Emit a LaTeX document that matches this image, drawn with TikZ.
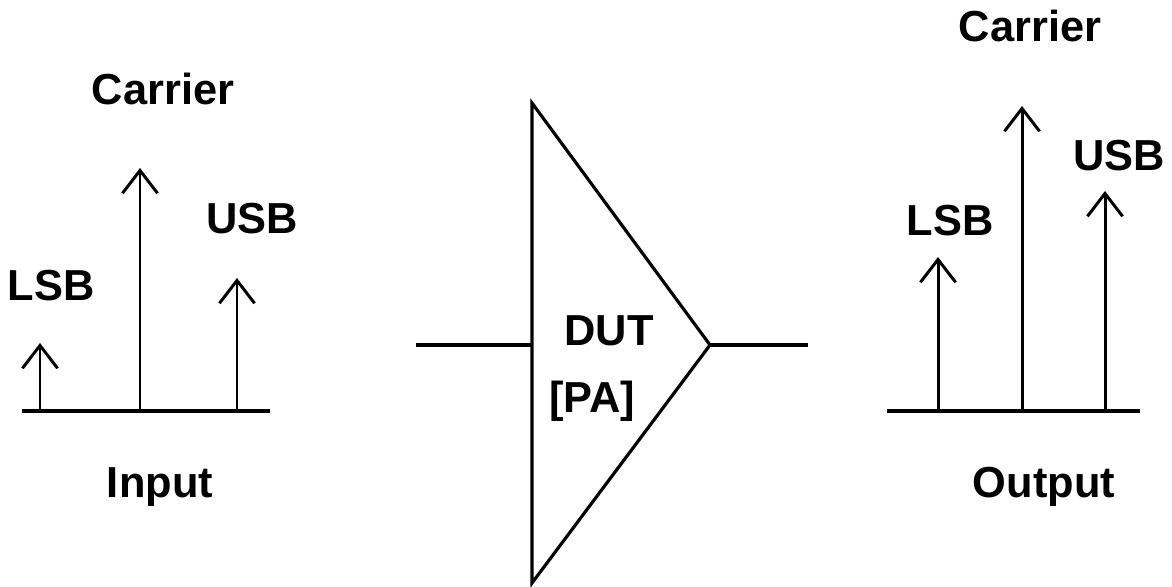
\documentclass[tikz,border=0pt]{standalone}
\usepackage{fontspec}
\setmainfont{Liberation Sans}
\usetikzlibrary{arrows.meta}

\begin{document}
\begin{tikzpicture}[
    x=0.02cm, y=-0.02cm,
    label/.style={font=\fontsize{24.7}{28}\selectfont\bfseries, text=black, inner sep=0pt},
    base/.style={draw=black, line width=1.8pt},
    tone/.style={draw=black, line width=1.7pt, -{Straight Barb[length=13pt, width=20pt, line width=1.7pt]}}
]
\useasboundingbox (0,0) rectangle (1172,586);

% input spectrum
\coordinate (inL) at (22,411);
\coordinate (inR) at (270,411);
\draw[base] (inL) -- (inR);
\coordinate (inlsbfoot) at (40,411);
\coordinate (inlsbtop) at (40,343);
\coordinate (incarfoot) at (140,411);
\coordinate (incartop) at (140,168);
\coordinate (inusbfoot) at (237,411);
\coordinate (inusbtop) at (237,278);
\draw[tone] (inlsbfoot) -- (inlsbtop);
\draw[tone] (incarfoot) -- (incartop);
\draw[tone] (inusbfoot) -- (inusbtop);
\node[label] (inlsb) at (51,286) {LSB};
\node[label] (incar) at (163,89) {Carrier};
\node[label] (inusb) at (252,219) {USB};
\node[label] (input) at (160,487) {Input};

% amplifier
\coordinate (tritop) at (532,103);
\coordinate (tribot) at (532,583);
\coordinate (triout) at (710,345);
\coordinate (triin) at (532,345);
\coordinate (leadin) at (416,345);
\coordinate (leadout) at (808,345);
\draw[base, line join=miter] (tritop) -- (triout) -- (tribot) -- cycle;
\draw[base] (leadin) -- (triin);
\draw[base] (triout) -- (leadout);
\node[label] (dut) at (609,331) {DUT};
\node[label] (pa) at (592,401) {[PA]};

% output spectrum
\coordinate (outL) at (887,411);
\coordinate (outR) at (1140,411);
\draw[base] (outL) -- (outR);
\coordinate (outlsbfoot) at (938,411);
\coordinate (outlsbtop) at (938,257);
\coordinate (outcarfoot) at (1022,411);
\coordinate (outcartop) at (1022,106);
\coordinate (outusbfoot) at (1105,411);
\coordinate (outusbtop) at (1105,191);
\draw[tone] (outlsbfoot) -- (outlsbtop);
\draw[tone] (outcarfoot) -- (outcartop);
\draw[tone] (outusbfoot) -- (outusbtop);
\node[label] (outlsb) at (950,221) {LSB};
\node[label] (outcar) at (1030,26) {Carrier};
\node[label] (outusb) at (1119,156) {USB};
\node[label] (output) at (1044,487) {Output};
\end{tikzpicture}
\end{document}
